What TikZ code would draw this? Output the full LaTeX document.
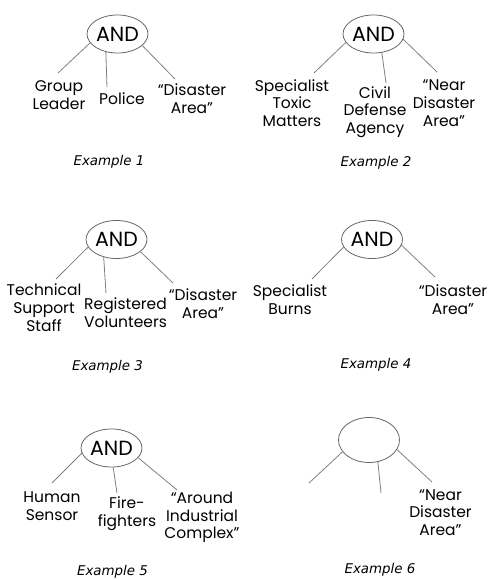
\documentclass[tikz,border=0pt]{standalone}
\usepackage{fontspec}
\setmainfont{Poppins}
\newfontfamily\capfont{DejaVu Sans}
\usepackage{tikz}
\usetikzlibrary{shapes.geometric}

\begin{document}
\begin{tikzpicture}[x = 1pt, y = -1pt,
        gate/.style = {ellipse, draw = black!60, line width = 0.8pt, minimum width = 61pt, minimum height = 38pt, inner sep = 0pt, font = \fontsize{20.5}{24}\selectfont},
        leaf/.style = {align = center, inner sep = 0pt, font = \fontsize{15.5}{17.7}\selectfont},
        caption/.style = {inner sep = 0pt, font = \capfont\itshape\fontsize{13.4}{16}\selectfont},
        edge/.style = {draw = black!50, line width = 0.8pt}]
        \useasboundingbox (0,0) rectangle (489,580);

        % Example 1
        \node[gate] (and1) at (117.5,34) {AND};
        \coordinate (e1a) at (58,73);
        \coordinate (e1b) at (107,87);
        \coordinate (e1c) at (175,79);
        \draw[edge] (and1.198) -- (e1a);
        \draw[edge] (and1.237) -- (e1b);
        \draw[edge] (and1.335) -- (e1c);
        \node[leaf] (leader1) at (59,95) {Group\\Leader};
        \node[leaf] (police1) at (122,99) {Police};
        \node[leaf] (area1) at (192,99) {“Disaster\\Area”};
        \node[caption] (ex1) at (109,162) {Example 1};

        % Example 2
        \node[gate] (and2) at (373.5,34) {AND};
        \coordinate (e2a) at (314,73);
        \coordinate (e2b) at (386,83);
        \coordinate (e2c) at (437,72);
        \draw[edge] (and2.197) -- (e2a);
        \draw[edge] (and2.294) -- (e2b);
        \draw[edge] (and2.350) -- (e2c);
        \node[leaf] (toxic2) at (292,103) {Specialist\\Toxic\\Matters};
        \node[leaf] (civil2) at (375,112) {Civil\\Defense\\Agency};
        \node[leaf] (near2) at (444,103) {“Near\\Disaster\\Area”};
        \node[caption] (ex2) at (376,163) {Example 2};

        % Example 3
        \node[gate] (and3) at (116.5,239.5) {AND};
        \coordinate (e3a) at (56,279);
        \coordinate (e3b) at (106,293);
        \coordinate (e3c) at (173,283);
        \draw[edge] (and3.195) -- (e3a);
        \draw[edge] (and3.234) -- (e3b);
        \draw[edge] (and3.333) -- (e3c);
        \node[leaf] (staff3) at (44,307.5) {Technical\\Support\\Staff};
        \node[leaf] (volunteers3) at (125.5,313) {Registered\\Volunteers};
        \node[leaf] (area3) at (203,304) {“Disaster\\Area”};
        \node[caption] (ex3) at (107.5,367) {Example 3};

        % Example 4
        \node[gate] (and4) at (372,239.5) {AND};
        \coordinate (e4a) at (312,279);
        \coordinate (e4c) at (435,277);
        \draw[edge] (and4.195) -- (e4a);
        \draw[edge] (and4.349) -- (e4c);
        \node[leaf] (burns4) at (290,300) {Specialist\\Burns};
        \node[leaf] (area4) at (453,300) {“Disaster\\Area”};
        \node[caption] (ex4) at (376,365) {Example 4};

        % Example 5
        \node[gate] (and5) at (111.5,448) {AND};
        \coordinate (e5a) at (52,483);
        \coordinate (e5b) at (117,493);
        \coordinate (e5c) at (177,490);
        \draw[edge] (and5.190) -- (e5a);
        \draw[edge] (and5.275) -- (e5b);
        \draw[edge] (and5.340) -- (e5c);
        \node[leaf] (sensor5) at (52,506) {Human\\Sensor};
        \node[leaf] (fire5) at (127,514) {Fire-\\fighters};
        \node[leaf] (complex5) at (202,517.5) {“Around\\Industrial\\Complex”};
        \node[caption] (ex5) at (112.5,572) {Example 5};

        % Example 6
        \node[gate, minimum height = 45pt] (and6) at (369,440) {};
        \coordinate (e6a) at (309,483);
        \coordinate (e6b) at (381,493);
        \coordinate (e6c) at (432,482);
        \draw[edge] (and6.204) -- (e6a);
        \draw[edge] (and6.292) -- (e6b);
        \draw[edge] (and6.341) -- (e6c);
        \node[leaf] (near6) at (440.5,512.5) {“Near\\Disaster\\Area”};
        \node[caption] (ex6) at (380,570) {Example 6};
    \end{tikzpicture}
\end{document}
